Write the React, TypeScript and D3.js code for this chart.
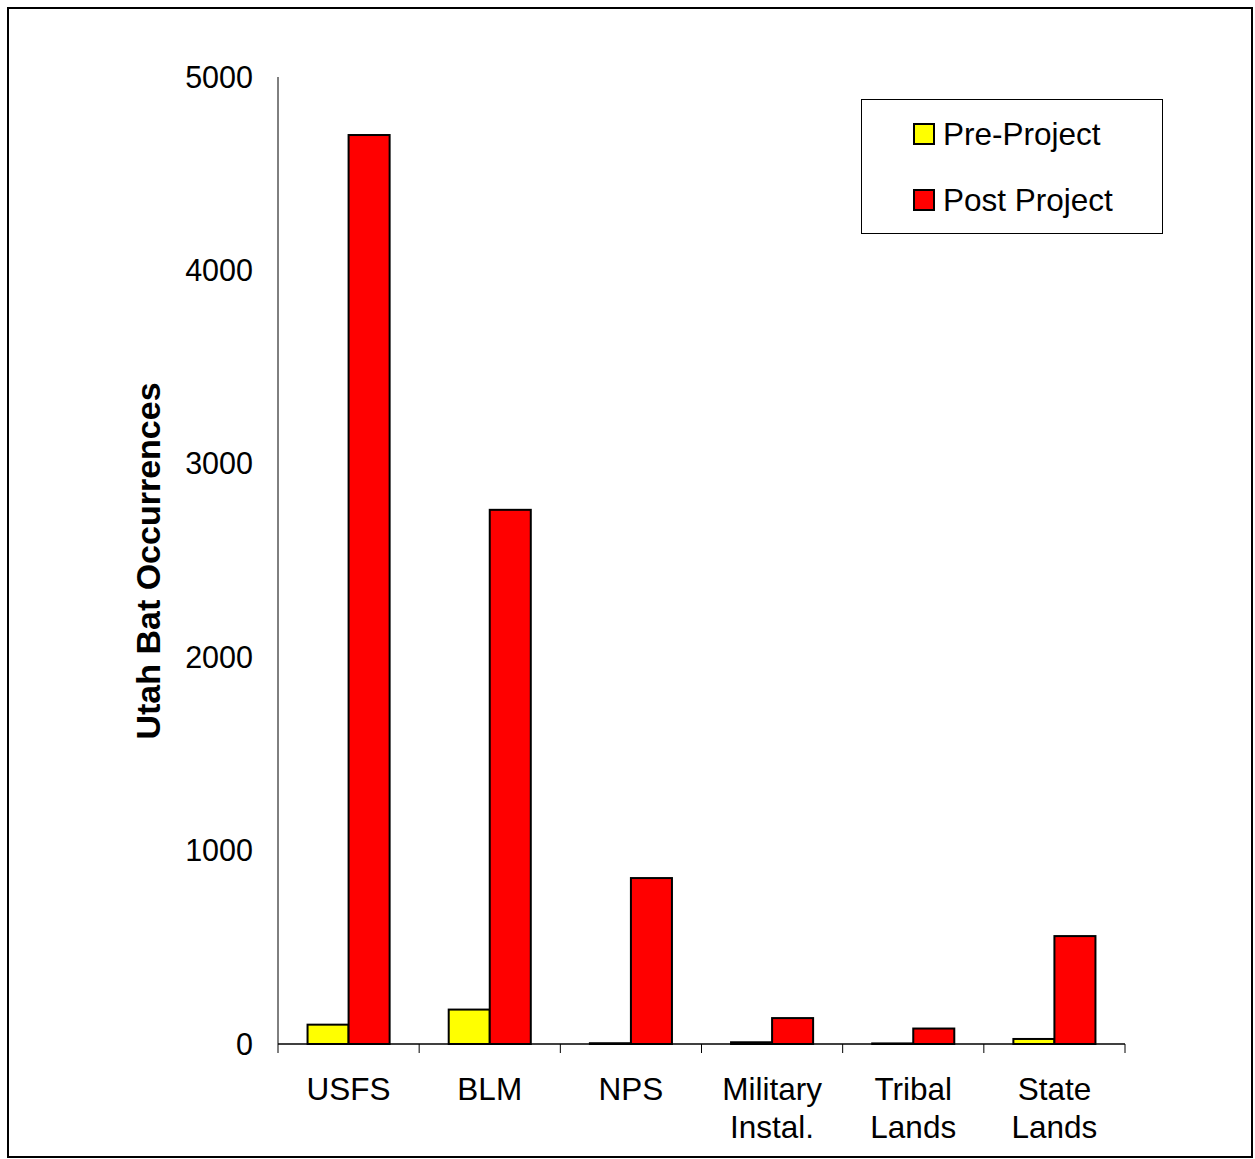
import React, { useRef, useEffect } from 'react';
import * as d3 from 'd3';

const categories = [['USFS'], ['BLM'], ['NPS'], ['Military', 'Instal.'], ['Tribal', 'Lands'], ['State', 'Lands']];
const preProject = [100, 178, 4, 9, 3, 26];
const postProject = [4700, 2762, 858, 134, 80, 558];
const yTicks = [0, 1000, 2000, 3000, 4000, 5000];
const seriesNames = ['Pre-Project', 'Post Project'];
const seriesColors = ['#ffff00', '#ff0000'];

export default function App() {
  const svgRef = useRef<SVGSVGElement>(null);

  useEffect(() => {
    if (!svgRef.current) return;
    const svg = d3.select(svgRef.current);
    svg.selectAll('*').remove();

    const font = '"Liberation Sans", Arial, sans-serif';

    // outer frame
    svg.append('rect')
      .attr('x', 8).attr('y', 8)
      .attr('width', 1244).attr('height', 1149)
      .attr('fill', '#fff')
      .attr('stroke', '#000')
      .attr('stroke-width', 2);

    const x0 = 278, x1 = 1125, yTop = 77, yBot = 1044;

    const xScale = d3.scaleBand<number>()
      .domain(d3.range(categories.length))
      .range([x0, x1]);
    const inner = d3.scaleBand<number>()
      .domain([0, 1])
      .range([0, xScale.bandwidth()])
      .paddingOuter(0.72)
      .paddingInner(0);
    const yScale = d3.scaleLinear().domain([0, 5000]).range([yBot, yTop]);

    const g = svg.append('g');

    // bars
    const series = [preProject, postProject];
    series.forEach((vals, si) => {
      g.selectAll(`.bar${si}`)
        .data(vals)
        .enter().append('rect')
        .attr('x', (_, i) => xScale(i)! + inner(si)!)
        .attr('y', d => yScale(d))
        .attr('width', inner.bandwidth())
        .attr('height', d => yBot - yScale(d))
        .attr('fill', seriesColors[si])
        .attr('stroke', '#000')
        .attr('stroke-width', 2);
    });

    // y axis
    g.append('line')
      .attr('x1', x0).attr('x2', x0)
      .attr('y1', yTop).attr('y2', yBot)
      .attr('stroke', '#000').attr('stroke-width', 1);

    g.selectAll('.ytick')
      .data(yTicks)
      .enter().append('text')
      .attr('x', 253)
      .attr('y', d => yScale(d))
      .attr('dy', '0.35em')
      .attr('text-anchor', 'end')
      .style('font-family', font)
      .style('font-size', '30.5px')
      .text(d => String(d));

    // x axis
    g.append('line')
      .attr('x1', x0).attr('x2', x1)
      .attr('y1', yBot).attr('y2', yBot)
      .attr('stroke', '#000').attr('stroke-width', 1.5);

    g.selectAll('.xtick')
      .data(d3.range(categories.length + 1))
      .enter().append('line')
      .attr('x1', i => x0 + i * xScale.step())
      .attr('x2', i => x0 + i * xScale.step())
      .attr('y1', yBot).attr('y2', yBot + 9)
      .attr('stroke', '#000').attr('stroke-width', 1);

    const labels = g.selectAll('.xlabel')
      .data(categories)
      .enter().append('text')
      .attr('text-anchor', 'middle')
      .style('font-family', font)
      .style('font-size', '31.5px');
    labels.each(function (lines, i) {
      const cx = xScale(i)! + xScale.bandwidth() / 2;
      lines.forEach((ln, li) => {
        d3.select(this).append('tspan')
          .attr('x', cx)
          .attr('y', 1100 + li * 38)
          .text(ln);
      });
    });

    // y title
    g.append('text')
      .attr('transform', 'translate(160,561) rotate(-90)')
      .attr('text-anchor', 'middle')
      .style('font-family', font)
      .style('font-size', '34px')
      .style('font-weight', 'bold')
      .text('Utah Bat Occurrences');

    // legend
    const lg = svg.append('g');
    lg.append('rect')
      .attr('x', 861.5).attr('y', 99.5)
      .attr('width', 301).attr('height', 134)
      .attr('fill', '#fff')
      .attr('stroke', '#000').attr('stroke-width', 1);
    seriesNames.forEach((name, i) => {
      const cy = 134 + i * 66;
      lg.append('rect')
        .attr('x', 914).attr('y', cy - 10)
        .attr('width', 20).attr('height', 20)
        .attr('fill', seriesColors[i])
        .attr('stroke', '#000').attr('stroke-width', 2);
      lg.append('text')
        .attr('x', 943).attr('y', cy)
        .attr('dy', '0.35em')
        .style('font-family', font)
        .style('font-size', '31.5px')
        .text(name);
    });
  }, []);

  return (
    <svg
      ref={svgRef}
      width={1255}
      height={1159}
      style={{ position: 'absolute', left: 0, top: 0, background: '#fff' }}
    />
  );
}
